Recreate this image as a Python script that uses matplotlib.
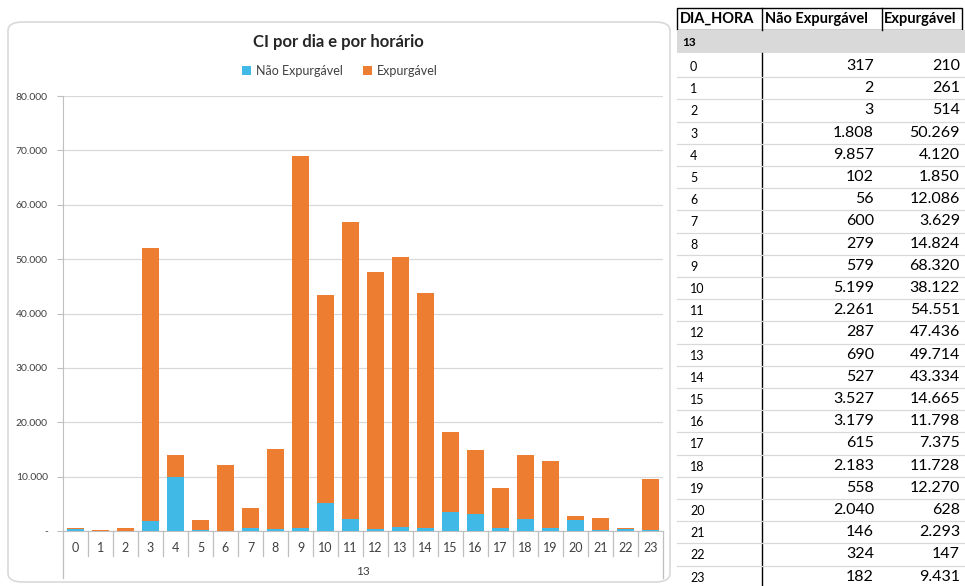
import matplotlib
matplotlib.use("Agg")
import matplotlib.pyplot as plt
from matplotlib.patches import FancyBboxPatch, Rectangle
from matplotlib.lines import Line2D

plt.rcParams['font.family'] = ['Lato', 'DejaVu Sans']

hours = list(range(24))
dia = "13"
nao_expurgavel = [317, 2, 3, 1808, 9857, 102, 56, 600, 279, 579, 5199, 2261,
                  287, 690, 527, 3527, 3179, 615, 2183, 558, 2040, 146, 324, 182]
expurgavel = [210, 261, 514, 50269, 4120, 1850, 12086, 3629, 14824, 68320, 38122, 54551,
              47436, 49714, 43334, 14665, 11798, 7375, 11728, 12270, 628, 2293, 147, 9431]
yticks = list(range(0, 80001, 10000))

BLUE = "#41B9E6"
ORANGE = "#ED7D31"
GRID = "#D9D9D9"
W, H = 965, 586


def fmt(v):
    return "-" if v == 0 else f"{v:,}".replace(",", ".")


def fx(px):
    return px / W


def fy(py):
    return 1 - py / H


fig = plt.figure(figsize=(9.65, 5.86), dpi=100)

# chart frame (behind the axes)
frame = FancyBboxPatch((fx(8), fy(582)), fx(662), (560) / H,
                       boxstyle="round,pad=0,rounding_size=0.015",
                       transform=fig.transFigure, facecolor="none",
                       edgecolor=GRID, linewidth=1.2, zorder=-1)
fig.patches.append(frame)

ax = fig.add_axes([fx(63), fy(531), fx(600), (531 - 96) / H])
ax.patch.set_alpha(0)
ax.bar(hours, nao_expurgavel, width=0.66, color=BLUE, label="Não Expurgável", zorder=3)
ax.bar(hours, expurgavel, width=0.66, bottom=nao_expurgavel, color=ORANGE,
       label="Expurgável", zorder=3)

ax.set_xlim(-0.5, 23.5)
ax.set_ylim(0, 80000)
ax.set_yticks(yticks)
ax.set_yticklabels([fmt(v) for v in yticks], fontsize=7.5, color="#404040")
ax.yaxis.grid(True, color=GRID, linewidth=0.9, zorder=0)
ax.tick_params(axis='y', length=4, color="#BFBFBF", pad=7)
ax.set_xticks(hours)
ax.set_xticklabels([str(h) for h in hours], fontsize=9, color="#404040")
ax.tick_params(axis='x', length=0, pad=8)
for s in ["top", "right"]:
    ax.spines[s].set_visible(False)
ax.spines["left"].set_color("#BFBFBF")
ax.spines["bottom"].set_color("#BFBFBF")

# category separators
tr = ax.get_xaxis_transform()
for b in range(1, 24):
    ax.add_line(Line2D([b - 0.5, b - 0.5], [0, -0.058], transform=tr,
                       color="#BFBFBF", linewidth=0.9, clip_on=False))
for b in [-0.5, 23.5]:
    ax.add_line(Line2D([b, b], [0, -0.108], transform=tr,
                       color="#BFBFBF", linewidth=0.9, clip_on=False))
ax.text(11.5, -0.092, dia, transform=tr, ha="center", va="center",
        fontsize=8.5, color="#404040")

fig.text(fx(338), fy(42), "CI por dia e por horário", ha="center", va="center",
         fontsize=12, fontweight="bold", color="#262626")
fig.legend(loc="center", bbox_to_anchor=(fx(340), fy(71)), ncol=2, frameon=False,
           fontsize=9, handlelength=0.7, handleheight=0.7, columnspacing=1.6,
           handletextpad=0.4, labelcolor="#404040")

# table
x0, x1, x2, x3 = 677, 762, 882, 962
fig.patches.append(Rectangle((fx(x0), fy(30)), fx(x3 - x0), 22 / H,
                             transform=fig.transFigure, facecolor="white",
                             edgecolor="black", linewidth=1.0))
for xv in [x1, x2]:
    fig.add_artist(Line2D([fx(xv), fx(xv)], [fy(8), fy(30)], transform=fig.transFigure,
                          color="black", linewidth=1.0))
hdr = ["DIA_HORA", "Não Expurgável", "Expurgável"]
for xs, t in zip([x0 + 3, x1 + 3, x2 + 2], hdr):
    fig.text(fx(xs), fy(19), t, ha="left", va="center", fontsize=10.5,
             fontweight="bold", color="black")
fig.patches.append(Rectangle((fx(x0), fy(53)), fx(W - x0), 23 / H,
                             transform=fig.transFigure, facecolor=GRID,
                             edgecolor="none"))
fig.text(fx(682), fy(42), dia, ha="left", va="center", fontsize=8.5,
         fontweight="bold", color="black")

rh = 22.2
fig.add_artist(Line2D([fx(x1), fx(x1)], [fy(53), 0], transform=fig.transFigure,
                      color="black", linewidth=1.0))
for i, h in enumerate(hours):
    yc = 66 + rh * i
    fig.text(fx(690), fy(yc + 1), str(h), ha="left", va="center", fontsize=9,
             color="black")
    fig.text(fx(874), fy(yc), fmt(nao_expurgavel[i]), ha="right", va="center",
             fontsize=11.5, color="black")
    fig.text(fx(960), fy(yc), fmt(expurgavel[i]), ha="right", va="center",
             fontsize=11.5, color="black")
    yb = yc + rh / 2
    fig.add_artist(Line2D([fx(x0), 1], [fy(yb), fy(yb)], transform=fig.transFigure,
                          color=GRID, linewidth=0.9))

fig.savefig("out.png", dpi=100)
